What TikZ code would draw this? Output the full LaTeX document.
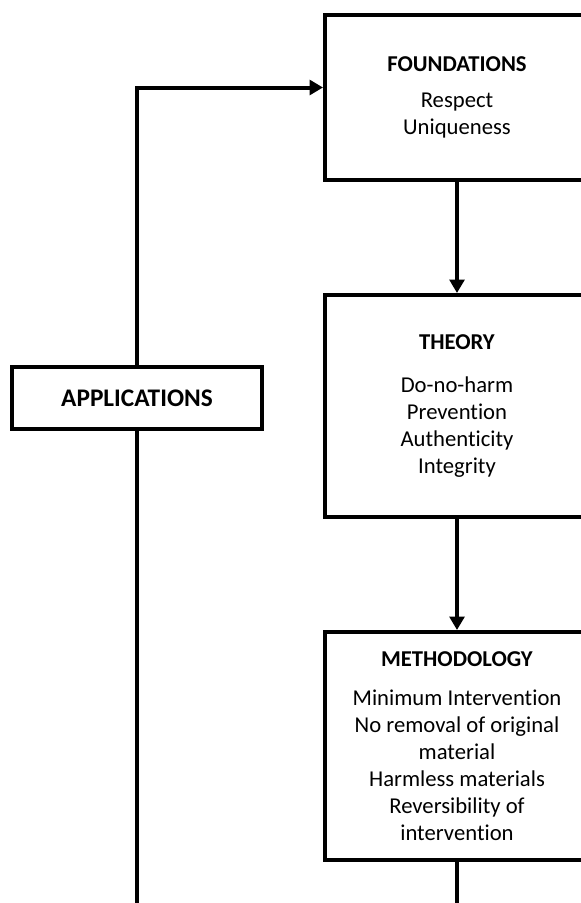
\documentclass[tikz,border=0pt]{standalone}
\usepackage{fontspec}
\setmainfont[Ligatures={NoCommon}]{Carlito}
\usetikzlibrary{arrows.meta}
\begin{document}
\begin{tikzpicture}[x=0.75pt,y=-0.75pt,
  box/.style={draw,line width=3pt,rectangle,align=center,minimum width=198pt,inner sep=0pt,
    font=\fontsize{17}{20.25}\selectfont},
  link/.style={line width=3pt,-{Triangle[length=10pt,width=11pt]}}]
\useasboundingbox (0,0) rectangle (581,903);
\clip (0,0) rectangle (581,903);
\node[box,minimum height=123.75pt] (found) at (457,97.5){\textbf{FOUNDATIONS}\\[7pt]Respect\\Uniqueness};
\node[box,minimum height=166.5pt] (theory) at (457,406){\textbf{THEORY}\\[12pt]Do-no-harm\\Prevention\\Authenticity\\Integrity};
\node[box,minimum height=171pt] (method) at (457,746){\textbf{METHODOLOGY}\\[9pt]Minimum Intervention\\No removal of original\\material\\Harmless materials\\Reversibility of\\intervention};
\node[box,minimum width=187.5pt,minimum height=46.5pt,font=\fontsize{19}{22}\selectfont] (apps) at (137,398){\textbf{APPLICATIONS}};
\coordinate (appsend) at (137,910);
\coordinate (methend) at (457,910);
\draw[link] (found) -- (theory);
\draw[link] (theory) -- (method);
\draw[line width=3pt] (method) -- (methend);
\draw[link] (apps.north) |- ([yshift=7.5pt]found.west);
\draw[line width=3pt] (apps) -- (appsend);
\end{tikzpicture}
\end{document}
